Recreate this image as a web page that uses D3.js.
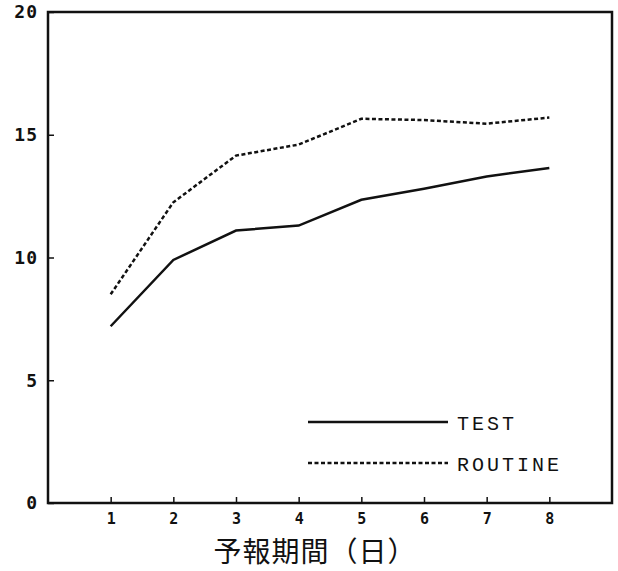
<!DOCTYPE html>
<html>
<head>
<meta charset="utf-8">
<script src="https://cdn.jsdelivr.net/npm/d3@7"></script>
<style>
  body { margin: 0; background: #fff; }
</style>
</head>
<body>
<div class="container"></div>
<script>
let width = 618
let height = 571

// forecast day
let days = [1, 2, 3, 4, 5, 6, 7, 8]
let testValues = [7.2, 9.9, 11.1, 11.3, 12.35, 12.8, 13.3, 13.65]
let routineValues = [8.5, 12.25, 14.15, 14.6, 15.65, 15.6, 15.45, 15.7]
let yTicks = [0, 5, 10, 15, 20]
let seriesNames = ["TEST", "ROUTINE"]
let xTitle = "予報期間（日）"

let margin = {left: 48, top: 12, right: 6, bottom: 68}

let x = d3.scaleLinear()
  .domain([0, 9])
  .range([margin.left, width - margin.right])

let y = d3.scaleLinear()
  .domain([0, 20])
  .range([height - margin.bottom, margin.top])

let svg = d3.select(".container")
  .append("svg")
  .attr("width", width)
  .attr("height", height)

// frame
svg.append("rect")
  .attr("x", x(0))
  .attr("y", y(20))
  .attr("width", x(9) - x(0))
  .attr("height", y(0) - y(20))
  .attr("fill", "none")
  .attr("stroke", "#111")
  .attr("stroke-width", 2.5)

// x axis ticks (inward)
let xAxis = d3.axisBottom(x)
  .tickValues(days)
  .tickSize(-6)
  .tickPadding(10)
  .tickFormat(d3.format("d"))

svg.append("g")
  .attr("transform", `translate(0,${y(0)})`)
  .call(xAxis)
  .call(g => g.select(".domain").remove())
  .call(g => g.selectAll("line").attr("stroke", "#111").attr("stroke-width", 1.5))
  .call(g => g.selectAll("text")
    .attr("font-family", "DejaVu Sans Mono")
    .attr("font-weight", "bold")
    .attr("font-size", "15px")
    .attr("fill", "#111"))

// y axis ticks (inward)
let yAxis = d3.axisLeft(y)
  .tickValues(yTicks)
  .tickSize(-6)
  .tickPadding(10)
  .tickFormat(d3.format("d"))

svg.append("g")
  .attr("transform", `translate(${x(0)},0)`)
  .call(yAxis)
  .call(g => g.select(".domain").remove())
  .call(g => g.selectAll("line").attr("stroke", "#111").attr("stroke-width", 1.5))
  .call(g => g.selectAll("text")
    .attr("font-family", "DejaVu Sans Mono")
    .attr("font-weight", "bold")
    .attr("font-size", "18px")
    .attr("letter-spacing", "1px")
    .attr("fill", "#111"))

let line = d3.line()
  .x(function (d) { return x(d[0]); })
  .y(function (d) { return y(d[1]); })

svg.append("path")
  .datum(d3.zip(days, testValues))
  .attr("d", line)
  .attr("fill", "none")
  .attr("stroke", "#111")
  .attr("stroke-width", 2.5)

svg.append("path")
  .datum(d3.zip(days, routineValues))
  .attr("d", line)
  .attr("fill", "none")
  .attr("stroke", "#111")
  .attr("stroke-width", 2.5)
  .attr("stroke-dasharray", "4,2.5")

// legend
let legend = svg.append("g")
  .attr("transform", "translate(308,422)")

legend.selectAll("line")
  .data(seriesNames)
  .enter()
  .append("line")
  .attr("x1", 0)
  .attr("x2", 140)
  .attr("y1", function (d, i) { return i * 41; })
  .attr("y2", function (d, i) { return i * 41; })
  .attr("stroke", "#111")
  .attr("stroke-width", 2.5)
  .attr("stroke-dasharray", function (d, i) { return i ? "4,2.5" : null; })

legend.selectAll("text")
  .data(seriesNames)
  .enter()
  .append("text")
  .attr("x", 149)
  .attr("y", function (d, i) { return i * 41 + 8; })
  .text(function (d) { return d })
  .attr("font-family", "Liberation Mono")
  .attr("font-size", "20px")
  .attr("letter-spacing", "3px")
  .attr("fill", "#111")

svg.append("text")
  .attr("x", 315)
  .attr("y", 562)
  .attr("text-anchor", "middle")
  .attr("font-family", "Noto Sans CJK JP")
  .attr("font-size", "28px")
  .attr("letter-spacing", "1px")
  .attr("fill", "#111")
  .text(xTitle)
</script>
</body>
</html>
